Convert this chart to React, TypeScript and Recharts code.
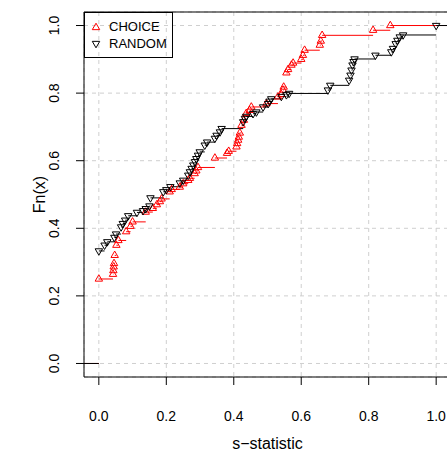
import React from 'react';
import {
  ComposedChart,
  Line,
  Scatter,
  XAxis,
  YAxis,
  CartesianGrid,
  ReferenceArea,
  Legend,
} from 'recharts';

// Empirical CDF jump points, s-statistic (x) and Fn(x) (y)
const choiceX = [
  0.0, 0.042, 0.043, 0.044, 0.045, 0.047, 0.052, 0.058, 0.081, 0.094, 0.1, 0.139, 0.16, 0.172, 0.181,
  0.186, 0.21, 0.216, 0.24, 0.25, 0.265, 0.27, 0.284, 0.289, 0.294, 0.344, 0.38, 0.385, 0.408, 0.41,
  0.413, 0.415, 0.418, 0.423, 0.43, 0.437, 0.447, 0.452, 0.497, 0.531, 0.541, 0.546, 0.548, 0.556,
  0.561, 0.571, 0.576, 0.6, 0.605, 0.61, 0.655, 0.658, 0.662, 0.813, 0.864,
];
const choiceY = [
  0.25, 0.264, 0.275, 0.286, 0.296, 0.32, 0.35, 0.364, 0.39, 0.406, 0.419, 0.448, 0.459, 0.47, 0.479,
  0.487, 0.508, 0.515, 0.522, 0.532, 0.542, 0.548, 0.562, 0.57, 0.58, 0.608, 0.622, 0.628, 0.641, 0.651,
  0.661, 0.67, 0.682, 0.705, 0.72, 0.74, 0.749, 0.759, 0.769, 0.789, 0.796, 0.809, 0.818, 0.86,
  0.87, 0.883, 0.889, 0.9, 0.912, 0.927, 0.942, 0.954, 0.971, 0.986, 1.0,
];
const randomX = [
  0.0, 0.017, 0.025, 0.046, 0.051, 0.066, 0.071, 0.078, 0.087, 0.113, 0.131, 0.139, 0.15, 0.153, 0.191,
  0.2, 0.212, 0.24, 0.25, 0.265, 0.27, 0.275, 0.28, 0.285, 0.289, 0.294, 0.299, 0.314, 0.321, 0.344,
  0.349, 0.359, 0.364, 0.428, 0.433, 0.437, 0.457, 0.467, 0.487, 0.502, 0.506, 0.511, 0.541, 0.556,
  0.564, 0.679, 0.686, 0.742, 0.746, 0.749, 0.752, 0.755, 0.758, 0.82, 0.867, 0.872, 0.88, 0.885,
  0.892, 0.902, 1.0,
];
const randomY = [
  0.333, 0.35, 0.36, 0.373, 0.383, 0.404, 0.414, 0.424, 0.437, 0.447, 0.452, 0.458, 0.466, 0.49, 0.508,
  0.514, 0.523, 0.534, 0.542, 0.557, 0.567, 0.577, 0.587, 0.597, 0.606, 0.616, 0.626, 0.646, 0.655, 0.666,
  0.675, 0.685, 0.695, 0.715, 0.725, 0.731, 0.739, 0.744, 0.759, 0.769, 0.776, 0.783, 0.79, 0.795,
  0.799, 0.809, 0.823, 0.838, 0.853, 0.868, 0.883, 0.893, 0.901, 0.912, 0.922, 0.932, 0.946, 0.956,
  0.966, 0.972, 1.0,
];

const tickValues = [0, 0.2, 0.4, 0.6, 0.8, 1.0];
const X_DOMAIN: [number, number] = [-0.044, 1.044];
const Y_DOMAIN: [number, number] = [-0.04, 1.04];
const FONT = '"Liberation Sans", Arial, Helvetica, sans-serif';

type Pt = { x: number; y: number | null };

const toPoints = (xs: number[], ys: number[]): Pt[] => xs.map((x, i) => ({ x, y: ys[i] }));

// horizontal pieces only (no verticals), broken with null rows
const toSteps = (xs: number[], ys: number[]): Pt[] => {
  const rows: Pt[] = [];
  let px = X_DOMAIN[0];
  let py = 0;
  xs.forEach((x, i) => {
    rows.push({ x: px, y: py }, { x, y: py }, { x, y: null });
    px = x;
    py = ys[i];
  });
  rows.push({ x: px, y: py }, { x: X_DOMAIN[1], y: py });
  return rows;
};

const R = 4.3;

const TriUp = ({ cx, cy, color }: any) => (
  <polygon
    points={`${cx},${cy - R} ${cx + 0.866 * R},${cy + R / 2} ${cx - 0.866 * R},${cy + R / 2}`}
    fill="none"
    stroke={color}
    strokeWidth={1}
  />
);

const TriDown = ({ cx, cy, color }: any) => (
  <polygon
    points={`${cx},${cy + R} ${cx + 0.866 * R},${cy - R / 2} ${cx - 0.866 * R},${cy - R / 2}`}
    fill="none"
    stroke={color}
    strokeWidth={1}
  />
);

const XTick = ({ x, y, payload }: any) => (
  <text x={x} y={y + 34} textAnchor="middle" fontSize={14} fontFamily={FONT} fill="#000">
    {payload.value.toFixed(1)}
  </text>
);

const YTick = ({ x, y, payload }: any) => (
  <text
    transform={`translate(${x - 15.5}, ${y}) rotate(-90)`}
    textAnchor="middle"
    fontSize={14}
    fontFamily={FONT}
    fill="#000"
  >
    {payload.value.toFixed(1)}
  </text>
);

const LegendBox = () => (
  <div
    style={{
      width: 87,
      height: 44,
      border: '1px solid #000',
      fontFamily: FONT,
      fontSize: 13,
      color: '#000',
      position: 'relative',
    }}
  >
    {[
      { name: 'CHOICE', color: '#ff0000', up: true, top: 14 },
      { name: 'RANDOM', color: '#000000', up: false, top: 30.5 },
    ].map((it) => (
      <div key={it.name} style={{ position: 'absolute', left: 0, top: it.top - 8, height: 16, display: 'flex', alignItems: 'center' }}>
        <svg width={24} height={16} style={{ display: 'block' }}>
          {it.up ? <TriUp cx={11} cy={8.5} color={it.color} /> : <TriDown cx={11} cy={7.5} color={it.color} />}
        </svg>
        <span style={{ lineHeight: '16px' }}>{it.name}</span>
      </div>
    ))}
  </div>
);

export default function App() {
  const choicePts = toPoints(choiceX, choiceY);
  const randomPts = toPoints(randomX, randomY);

  return (
    <div style={{ position: 'absolute', left: 0, top: 0, width: 447, height: 450, overflow: 'hidden', background: '#fff' }}>
      <ComposedChart width={470} height={450} margin={{ top: 12, right: 19, left: 24, bottom: 0 }}>
        <CartesianGrid stroke="#cfcfcf" strokeDasharray="4 4" />
        <XAxis
          dataKey="x"
          type="number"
          domain={X_DOMAIN}
          allowDataOverflow
          ticks={tickValues}
          height={73}
          axisLine={false}
          tickLine={{ stroke: '#000' }}
          tickSize={8}
          tick={<XTick />}
          label={{
            content: ({ viewBox }: any) => (
              <text
                x={viewBox.x + viewBox.width / 2}
                y={viewBox.y + 71.5}
                textAnchor="middle"
                fontSize={16}
                fontFamily={FONT}
                fill="#000"
              >
                s−statistic
              </text>
            ),
          }}
        />
        <YAxis
          dataKey="y"
          type="number"
          domain={Y_DOMAIN}
          allowDataOverflow
          ticks={tickValues}
          width={60}
          axisLine={false}
          tickLine={{ stroke: '#000' }}
          tickSize={8}
          tick={<YTick />}
          label={{
            content: ({ viewBox }: any) => (
              <text
                transform={`translate(${viewBox.x + 21}, ${viewBox.y + viewBox.height / 2}) rotate(-90)`}
                textAnchor="middle"
                fontSize={16}
                fontFamily={FONT}
                fill="#000"
              >
                Fn(x)
              </text>
            ),
          }}
        />
        <ReferenceArea
          x1={X_DOMAIN[0]}
          x2={X_DOMAIN[1]}
          y1={Y_DOMAIN[0]}
          y2={Y_DOMAIN[1]}
          fill="none"
          stroke="#000"
          strokeWidth={1}
          ifOverflow="extendDomain"
        />
        <Line
          data={toSteps(choiceX, choiceY)}
          dataKey="y"
          type="linear"
          stroke="#ff0000"
          strokeWidth={1}
          dot={false}
          activeDot={false}
          isAnimationActive={false}
          legendType="none"
        />
        <Scatter
          name="CHOICE"
          data={choicePts}
          dataKey="y"
          isAnimationActive={false}
          shape={(p: any) => <TriUp cx={p.cx} cy={p.cy} color="#ff0000" />}
        />
        <Line
          data={toSteps(randomX, randomY)}
          dataKey="y"
          type="linear"
          stroke="#000"
          strokeWidth={1}
          dot={false}
          activeDot={false}
          isAnimationActive={false}
          legendType="none"
        />
        <Scatter
          name="RANDOM"
          data={randomPts}
          dataKey="y"
          isAnimationActive={false}
          shape={(p: any) => <TriDown cx={p.cx} cy={p.cy} color="#000" />}
        />
        <Legend
          layout="vertical"
          align="center"
          verticalAlign="middle"
          content={<LegendBox />}
          wrapperStyle={{ left: 84, top: 12, width: 'auto' }}
        />
      </ComposedChart>
    </div>
  );
}
